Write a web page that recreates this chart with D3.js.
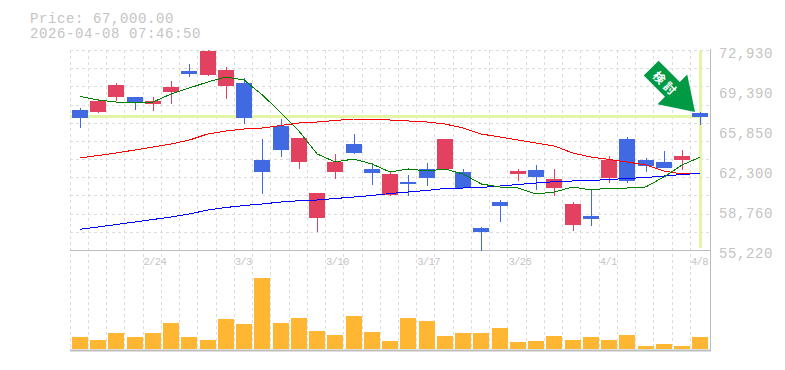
<!DOCTYPE html>
<html><head><meta charset="utf-8">
<script src="https://cdnjs.cloudflare.com/ajax/libs/d3/7.8.5/d3.min.js"></script>
<style>html,body{margin:0;padding:0;background:#fff}svg{display:block}text{font-family:"Liberation Mono",monospace}</style>
</head><body><div id="chart"></div>
<script>
const dates=["2/17","2/18","2/19","2/20","2/24","2/25","2/26","2/27","3/2","3/3","3/4","3/5","3/6","3/9","3/10","3/11","3/12","3/13","3/16","3/17","3/18","3/19","3/23","3/24","3/25","3/26","3/27","3/30","3/31","4/1","4/2","4/3","4/6","4/7","4/8"];
const tickDates=["2/24","3/3","3/10","3/17","3/25","4/1","4/8"];
const priceLabels=[72930,69390,65850,62300,58760,55220];
const open=[67617,67440,68768,68768,68148,69211,71070,70716,69742,70008,63189,66200,63012,58054,62127,64606,62393,60090,61241,62393,62393,62127,57168,59470,61950,62304,60710,57434,58231,61596,65049,63189,63012,63189,67351];
const high=[67794,68591,70008,68768,68768,70185,71690,72930,71425,70451,65049,66820,65138,60267,63721,65492,62924,62127,61861,62924,65049,62393,57257,59647,62393,62747,62393,59470,60622,63544,65226,63367,63986,64075,67440];
const low=[66023,67351,68414,67617,67528,68148,70539,70628,68591,66377,60179,63455,62393,56814,61507,63721,60976,60002,60002,60887,62393,60710,55131,57699,61330,60533,60002,56902,57345,61153,61153,62127,62481,62304,66289];
const close=[66909,68414,69831,68237,68414,69654,70805,72841,71159,66909,62127,64075,65138,60267,63012,63809,62038,61950,61064,61596,65049,60710,56814,59116,62215,61684,61507,59293,57965,63189,61330,62658,62481,63544,67000];
const maShort=[68812,68502,68325,68237,68325,69034,69565,70096,70539,70273,68945,67396,65757,63721,63012,63278,62835,62127,62393,62215,62393,61950,61064,60799,60710,60179,60356,60799,60533,60710,60710,60799,61684,62747,63455];
const maMid=[63367,63588,63809,64075,64341,64606,64960,65492,65757,65935,66023,66244,66466,66554,66687,66820,66820,66731,66643,66554,66377,66023,65492,65226,64960,64695,64429,63809,63455,63234,63012,62747,62215,61950,61994];
const maLong=[57053,57257,57478,57699,57921,58142,58408,58762,58983,59160,59293,59470,59586,59647,59780,59913,60046,60223,60356,60489,60666,60710,60754,60887,61020,61153,61268,61330,61374,61463,61551,61640,61773,61906,62012];
const volume=[11,9,16,12,15,26,12,9,30,25,71,26,31,18,14,33,17,8,31,28,13,15,16,21,7,8,13,9,12,9,14,3,5,3,12];
const currentPrice=67000;
const titleLines=["Price: 67,000.00","2026-04-08 07:46:50"];
const signalText="検討";

const W=785,H=370,L=70.8,R=709.5,T=50,B=250,VB=348.5,AX=350,AR=710;
const grid="#dcdcdc",axisC="#bdbdbd",textC="#c4c4c4",blue="#4169e1",red="#e24260",hl="#e4f5a8";
const svg=d3.select("#chart").append("svg").attr("width",W).attr("height",H);
const x=d3.scaleBand().domain(dates).range([L,R]);
const cx=d=>x(d)+x.bandwidth()/2;
const gridX=d=>Math.floor(cx(d)-9.9)+.5;
const y=d3.scaleLinear().domain([55220,72930]).range([B,T]);
const v=d3.scaleLinear().domain([0,98]).range([VB,VB-98]);
const px=n=>Math.round(n);

// dashed grid
const dash="3,3";
const hTicks=d3.range(0,12).map(i=>55220+i*(72930-55220)/11);
svg.append("g").selectAll("line").data(hTicks).join("line")
 .attr("x1",70).attr("x2",AR).attr("y1",d=>px(y(d))+.5).attr("y2",d=>px(y(d))+.5)
 .attr("stroke",grid).attr("stroke-dasharray",dash);
svg.append("g").selectAll("line").data(dates).join("line")
 .attr("x1",gridX).attr("x2",gridX).attr("y1",T).attr("y2",AX)
 .attr("stroke",grid).attr("stroke-dasharray",dash);

// current price crosshair
svg.append("rect").attr("x",70).attr("width",px(cx("4/8"))-70+1).attr("y",px(y(currentPrice))-2).attr("height",3).attr("fill",hl);
svg.append("rect").attr("x",px(cx("4/8"))-1).attr("width",3).attr("y",T+1).attr("height",B-T-3).attr("fill",hl);

// pane frame
svg.append("line").attr("x1",70).attr("x2",AR+1).attr("y1",250.5).attr("y2",250.5).attr("stroke",axisC);
svg.append("line").attr("x1",70).attr("x2",AR+1).attr("y1",AX+.5).attr("y2",AX+.5).attr("stroke",axisC).attr("stroke-width",2);
svg.append("line").attr("x1",AR+.5).attr("x2",AR+.5).attr("y1",T-1).attr("y2",AX+1).attr("stroke",axisC);

// volume
svg.append("g").selectAll("rect").data(dates).join("rect")
 .attr("x",d=>px(cx(d))-8).attr("width",16)
 .attr("y",(d,i)=>px(v(volume[i]))).attr("height",(d,i)=>px(VB)-px(v(volume[i])))
 .attr("fill","#ffb733");

// candles
const col=i=>close[i]>=open[i]?red:blue;
const c=svg.append("g").attr("shape-rendering","crispEdges");
c.selectAll("line").data(dates).join("line")
 .attr("x1",d=>px(cx(d))+.5).attr("x2",d=>px(cx(d))+.5)
 .attr("y1",(d,i)=>px(y(high[i]))).attr("y2",(d,i)=>px(y(low[i])))
 .attr("stroke",(d,i)=>col(i)).attr("stroke-width",1);
c.selectAll("rect").data(dates).join("rect")
 .attr("x",d=>px(cx(d))-8).attr("width",16)
 .attr("y",(d,i)=>px(y(Math.max(open[i],close[i]))))
 .attr("height",(d,i)=>Math.max(1,px(y(Math.min(open[i],close[i])))-px(y(Math.max(open[i],close[i])))))
 .attr("fill",(d,i)=>col(i));

// moving averages
const line=d3.line().x((d,i)=>cx(dates[i])).y(d=>y(d));
[[maMid,"#ff0000"],[maLong,"#0000ff"],[maShort,"#008000"]].forEach(([s,k])=>{
 svg.append("path").attr("d",line(s)).attr("fill","none").attr("stroke",k).attr("stroke-width",1).attr("shape-rendering","crispEdges");
});

// signal arrow
const tipX=px(cx("4/8"))-5,tipY=y(currentPrice)-5;
const arrow=svg.append("g").attr("transform",`translate(${tipX},${tipY}) rotate(-45)`);
arrow.append("path").attr("fill","#009944").attr("d","M0,0 L-21,-32 L-10.5,-32 L-10.5,-62 L10.5,-62 L10.5,-32 L21,-32 Z");
arrow.append("text").attr("transform","translate(0,-40.5) rotate(90)").attr("text-anchor","middle").attr("dominant-baseline","central")
 .attr("fill","#fff").attr("font-size",12).attr("font-weight",700).attr("letter-spacing",3).style("font-family",'"Noto Sans CJK JP"').text(signalText);

// axis labels
const ax=svg.append("g").attr("transform",`translate(${AR},0)`).call(d3.axisRight(y).tickValues(priceLabels).tickSize(0).tickPadding(9).tickFormat(d3.format(",")));
ax.select(".domain").remove();
ax.selectAll("text").attr("fill",textC).attr("font-size",14).attr("letter-spacing",.6).attr("dy",null).attr("dominant-baseline","central");
ax.selectAll(".tick").attr("transform",(d,i)=>`translate(0,${50+i*40+3.5})`);
const bx=svg.append("g").attr("transform",`translate(0,${B})`).call(d3.axisBottom(x).tickValues(tickDates).tickSize(0).tickPadding(8));
bx.select(".domain").remove();
bx.selectAll("text").attr("fill",textC).attr("font-size",10.5).attr("letter-spacing",-.6).attr("text-anchor","start").attr("x",-9.5);

// heading
svg.append("g").selectAll("text").data(titleLines).join("text")
 .attr("x",30).attr("y",(d,i)=>23+i*15).attr("fill",textC).attr("font-size",14).attr("letter-spacing",.6).text(d=>d);
</script></body></html>
